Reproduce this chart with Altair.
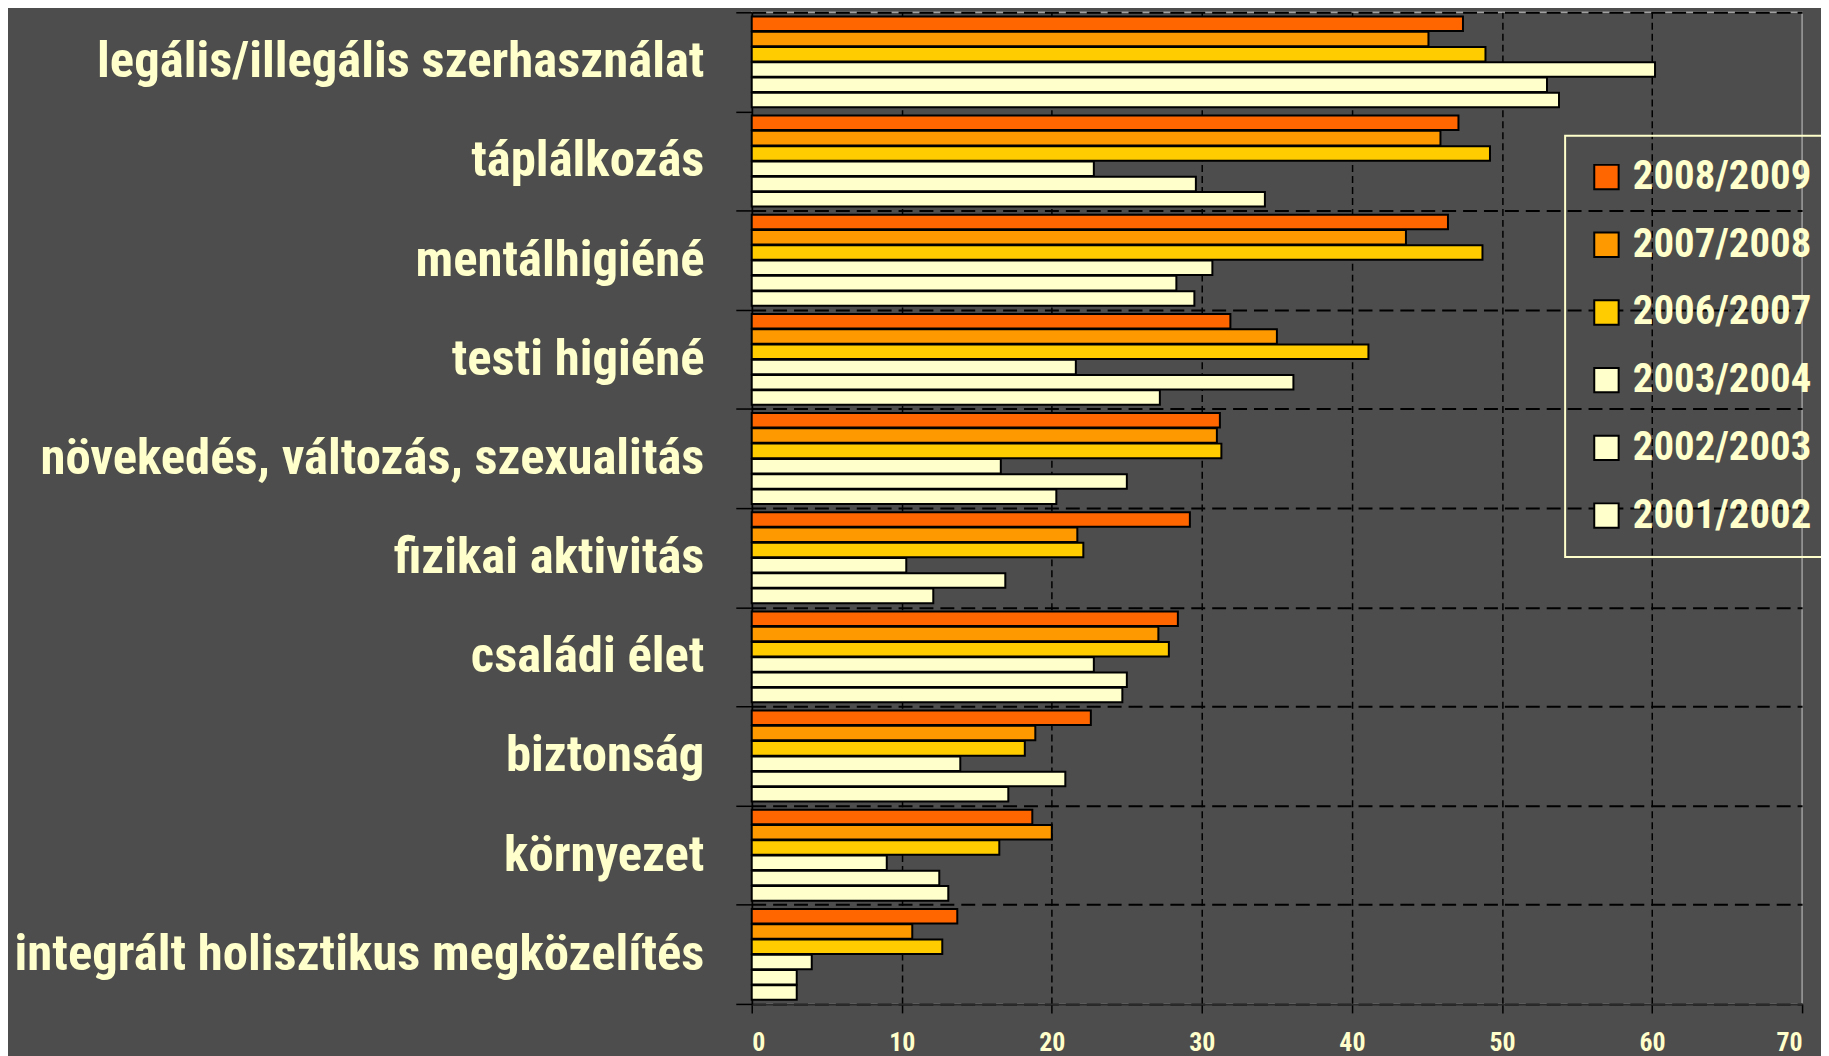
import altair as alt
import pandas as pd

categories = [
    "legális/illegális szerhasználat",
    "táplálkozás",
    "mentálhigiéné",
    "testi higiéné",
    "növekedés, változás, szexualitás",
    "fizikai aktivitás",
    "családi élet",
    "biztonság",
    "környezet",
    "integrált holisztikus megközelítés",
]
years = ["2008/2009", "2007/2008", "2006/2007", "2003/2004", "2002/2003", "2001/2002"]

v_2008_2009 = [47.4, 47.1, 46.4, 31.9, 31.2, 29.2, 28.4, 22.6, 18.7, 13.7]
v_2007_2008 = [45.1, 45.9, 43.6, 35.0, 31.0, 21.7, 27.1, 18.9, 20.0, 10.7]
v_2006_2007 = [48.9, 49.2, 48.7, 41.1, 31.3, 22.1, 27.8, 18.2, 16.5, 12.7]
v_2003_2004 = [60.2, 22.8, 30.7, 21.6, 16.6, 10.3, 22.8, 13.9, 9.0, 4.0]
v_2002_2003 = [53.0, 29.6, 28.3, 36.1, 25.0, 16.9, 25.0, 20.9, 12.5, 3.0]
v_2001_2002 = [53.8, 34.2, 29.5, 27.2, 20.3, 12.1, 24.7, 17.1, 13.1, 3.0]

colors = ["#FF6600", "#FF9900", "#FFCC00", "#FFFFCC", "#FFFFCC", "#FFFFCC"]
x_ticks = [0, 10, 20, 30, 40, 50, 60, 70]

series = [v_2008_2009, v_2007_2008, v_2006_2007, v_2003_2004, v_2002_2003, v_2001_2002]
rows = []
for yr, vals in zip(years, series):
    for cat, v in zip(categories, vals):
        rows.append({"category": cat, "year": yr, "value": v})
df = pd.DataFrame(rows)

FONT = "Roboto Condensed, DejaVu Sans Condensed, sans-serif"
TXT = "#FFFFCC"
BG = "#4D4D4D"

chart = alt.Chart(df).mark_bar(stroke="black", strokeWidth=2).encode(
    x=alt.X(
        "value:Q",
        scale=alt.Scale(domain=[0, 70], nice=False),
        axis=alt.Axis(
            values=x_ticks, title=None, grid=True,
            gridColor={"condition": {"test": "datum.value === 0 || datum.value === 70", "value": "transparent"}, "value": "black"},
            gridDash=[7, 4], gridWidth=1.5,
            domainColor="#2a2a2a", domainWidth=2,
            tickColor="black", tickSize=9, tickWidth=1.5,
            labelColor=TXT, labelFont=FONT, labelFontSize=26, labelFontWeight="bold",
            labelPadding=17,
        ),
    ),
    y=alt.Y(
        "category:N", sort=categories,
        scale=alt.Scale(paddingInner=0, paddingOuter=0),
        axis=alt.Axis(
            title=None, tickBand="extent", grid=True,
            gridColor={"condition": {"test": "datum.value === 'legális/illegális szerhasználat'", "value": "transparent"}, "value": "black"},
            gridDash=[14, 7], gridWidth=2,
            domainColor="black", domainWidth=2,
            tickColor="black", tickSize=16, tickWidth=1.5,
            labelColor=TXT, labelFont=FONT, labelFontSize=51, labelFontWeight="bold",
            labelPadding=32, labelLimit=0,
        ),
    ),
    yOffset=alt.YOffset("year:N", sort=years, scale=alt.Scale(paddingInner=0.05, paddingOuter=0.27)),
    color=alt.Color(
        "year:N", sort=years,
        scale=alt.Scale(domain=years, range=colors),
        legend=alt.Legend(
            title=None, orient="none", legendX=817, legendY=124, direction="vertical",
            symbolType="square", symbolSize=600, symbolStrokeColor="black", symbolStrokeWidth=2,
            symbolOpacity=1, symbolOffset=0,
            labelFont=FONT, labelFontSize=41, labelFontWeight="bold", labelColor=TXT,
            labelOffset=6, labelLimit=0, rowPadding=26, padding=21,
            strokeColor=TXT, fillColor="transparent",
        ),
    ),
).properties(
    width=1055, height=996,
    padding={"left": 747, "top": 2, "right": 19, "bottom": 50},
    autosize=alt.AutoSizeParams(type="none"),
    background=BG,
).configure_view(
    fill=BG, stroke="#A0A0A0", strokeWidth=1.5
).configure_legend(strokeWidth=2)

chart.save("out.html", embed_options={"renderer": "svg", "actions": False})
